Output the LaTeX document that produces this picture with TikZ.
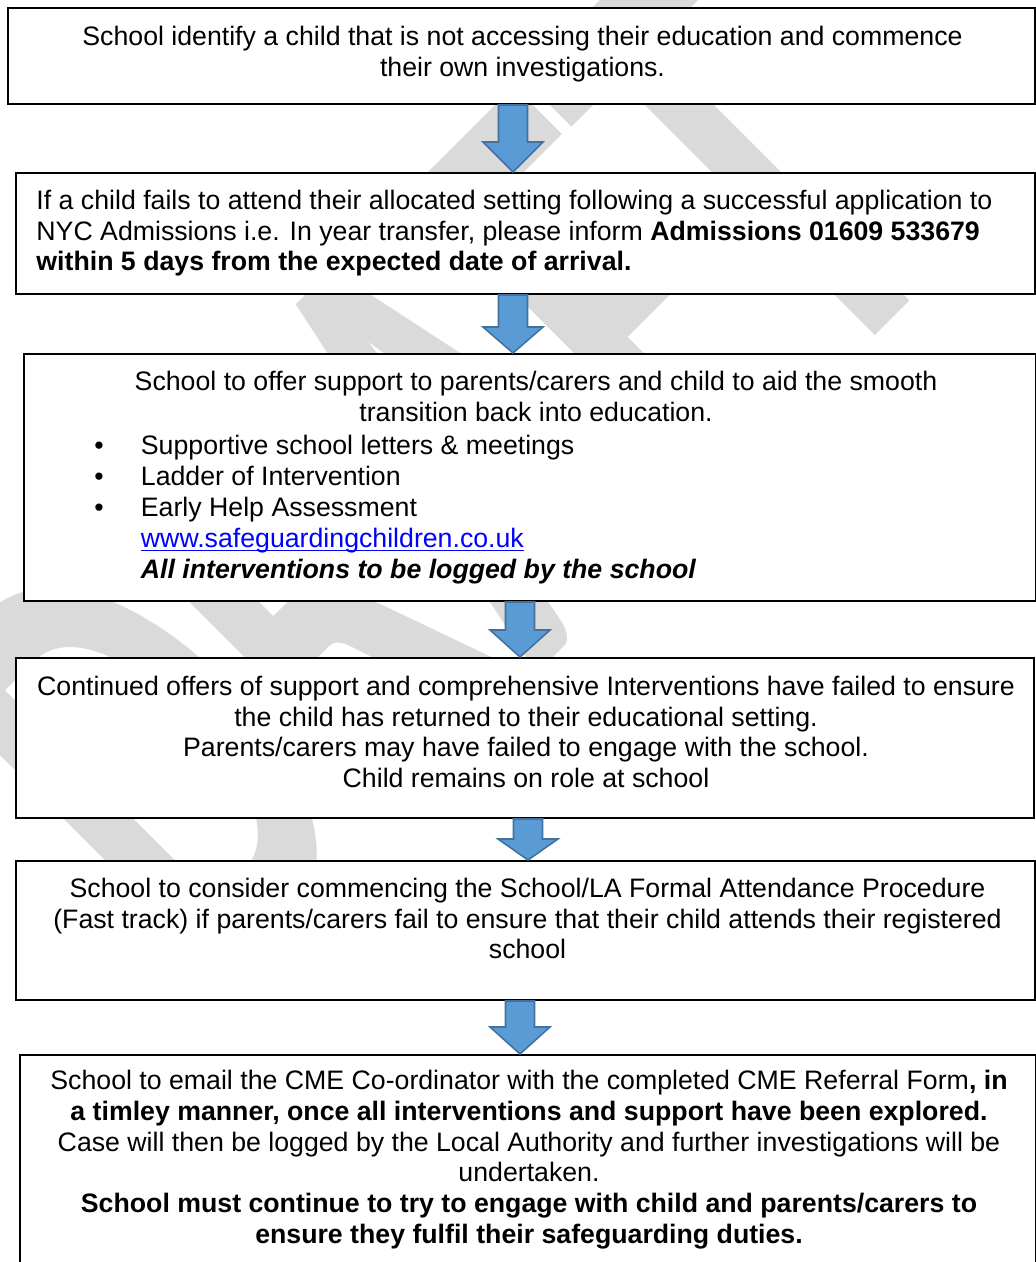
\documentclass[tikz,border=0pt]{standalone}
\usepackage{fontspec}
\setmainfont{Liberation Sans}
\newfontfamily\wmfont{Carlito}
\usetikzlibrary{calc,fit}

\definecolor{arrowfill}{RGB}{91,155,213}
\definecolor{arrowline}{RGB}{65,113,156}
\definecolor{wmgray}{RGB}{218,218,218}
\definecolor{linkblue}{RGB}{0,0,255}

\newcommand{\linkul}[1]{\setbox0\hbox{#1}\rlap{\rule[-1.4pt]{\wd0}{0.55pt}}\box0}

\newcommand{\flowarrow}[4][27]{%
  \draw[blockarrow]
    ($(#2.south -| #4)+(-14.5,0)$)
    -- ($(#3.north -| #4)+(-14.5,-#1)$)
    -- ++(-15.5,0)
    -- (#3.north -| #4)
    -- ($(#3.north -| #4)+(30,-#1)$)
    -- ++(-15.5,0)
    -- ($(#2.south -| #4)+(14.5,0)$)
    -- cycle;}

\begin{document}
\begin{tikzpicture}[x=0.4494pt,y=-0.4494pt,
                    flowbox/.style={draw=black,fill=white,line width=0.9pt,inner sep=0pt},
                    boxtext/.style={inner sep=0pt,font=\fontsize{12pt}{13.8pt}\selectfont,
                                    execute at begin node=\strut},
                    blockarrow/.style={fill=arrowfill,draw=arrowline,line width=0.7pt,line join=miter},
                    wmark/.style={text=wmgray,inner sep=0pt,font=\wmfont\bfseries\fontsize{299pt}{299pt}\selectfont}
]
\useasboundingbox (0,0) rectangle (1036,1262);

\node [wmark,rotate=45] (wm) at (434,472) {\scalebox{0.577}[1]{DRAFT}};

\node [flowbox,fit={(8,8) (1035,104)}] (box1) {};
\node [flowbox,fit={(16,173) (1035,294)}] (box2) {};
\node [flowbox,fit={(24,354) (1036,601)}] (box3) {};
\node [flowbox,fit={(16,658) (1034,818)}] (box4) {};
\node [flowbox,fit={(16,861) (1035,1000)}] (box5) {};
\node [flowbox,fit={(20,1055) (1036,1280)}] (box6) {};

\node [boxtext,align=center,anchor=north] (text1) at ($(box1.north)+(1,18.5)$)
  {School identify a child that is not accessing their education and commence\\
   their own investigations.};
\node [boxtext,align=left,anchor=north west] (text2) at ($(box2.north west)+(21,17.5)$)
  {If a child fails to attend their allocated setting following a successful application to\\
   NYC Admissions i.e. In year transfer, please inform \textbf{Admissions 01609 533679}\\
   \textbf{within 5 days from the expected date of arrival.}};
\node [boxtext,align=center,anchor=north] (text3) at ($(box3.north)+(6,18)$)
  {School to offer support to parents/carers and child to aid the smooth\\
   transition back into education.};
\node [boxtext,align=left,anchor=north west,font=\fontsize{12pt}{14pt}\selectfont]
  (list3) at (94,434.5)
  {\makebox[20.9pt][l]{\textbullet}Supportive school letters \& meetings\\
   \makebox[20.9pt][l]{\textbullet}Ladder of Intervention\\
   \makebox[20.9pt][l]{\textbullet}Early Help Assessment\\
   \hspace*{20.9pt}\textcolor{linkblue}{\linkul{www.safeguardingchildren.co.uk}}\\
   \hspace*{20.9pt}\textbf{\textit{All interventions to be logged by the school}}};
\node [boxtext,align=center,anchor=north] (text4) at ($(box4.north)+(1,18.5)$)
  {Continued offers of support and comprehensive Interventions have failed to ensure\\
   the child has returned to their educational setting.\\
   Parents/carers may have failed to engage with the school.\\
   Child remains on role at school};
\node [boxtext,align=center,anchor=north] (text5) at ($(box5.north)+(2,17.5)$)
  {School to consider commencing the School/LA Formal Attendance Procedure\\
   (Fast track) if parents/carers fail to ensure that their child attends their registered\\
   school};
\node [boxtext,align=center,anchor=north] (text6) at ($(box6.north)+(1,16)$)
  {School to email the CME Co-ordinator with the completed CME Referral Form\textbf{, in}\\
   \textbf{a timley manner, once all interventions and support have been explored.}\\
   Case will then be logged by the Local Authority and further investigations will be\\
   undertaken.\\
   \textbf{School must continue to try to engage with child and parents/carers to}\\
   \textbf{ensure they fulfil their safeguarding duties.}};

\coordinate (ax1) at (513,0);
\coordinate (ax2) at (513,0);
\coordinate (ax3) at (520,0);
\coordinate (ax4) at (528,0);
\coordinate (ax5) at (520,0);
\flowarrow[30]{box1}{box2}{ax1}
\flowarrow[26]{box2}{box3}{ax2}
\flowarrow[27]{box3}{box4}{ax3}
\flowarrow[21]{box4}{box5}{ax4}
\flowarrow[27]{box5}{box6}{ax5}

\end{tikzpicture}
\end{document}
